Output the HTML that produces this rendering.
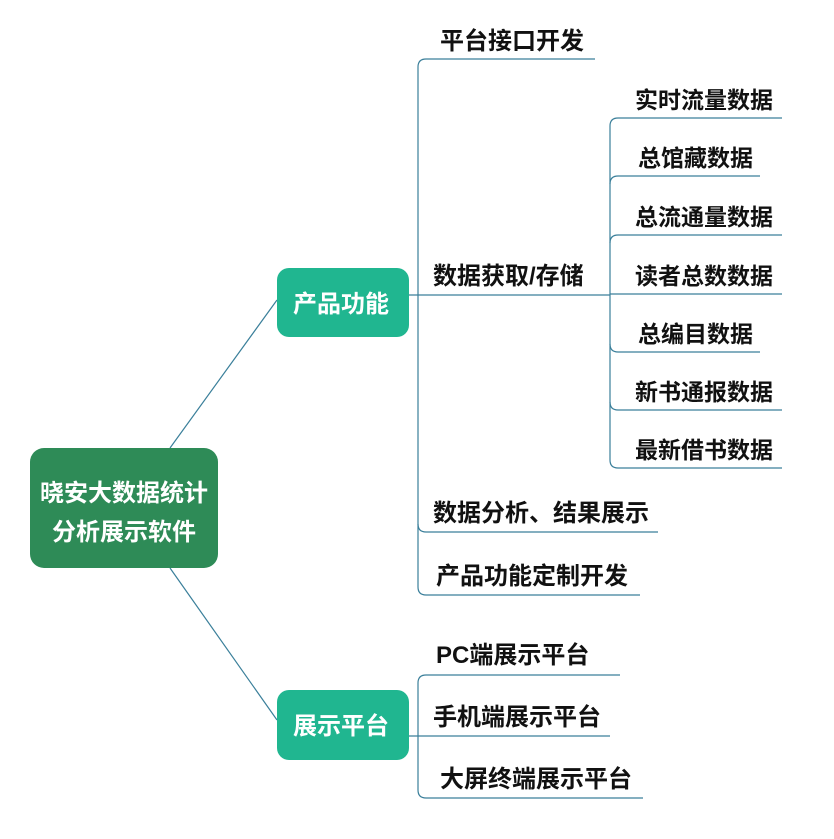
<!DOCTYPE html>
<html><head><meta charset="utf-8"><style>
html,body{margin:0;padding:0;background:#fff}
text{font-family:"Liberation Sans","Noto Sans CJK SC",sans-serif;font-weight:bold}
</style></head><body>
<svg width="834" height="834" viewBox="0 0 834 834" xmlns="http://www.w3.org/2000/svg">
<g stroke="#3a7f9a" stroke-width="1.2" fill="none">
<line x1="170" y1="448" x2="277" y2="300"/>
<line x1="170" y1="568" x2="277" y2="720"/>
<path d="M595 59 H426 Q418 59 418 67 V587 Q418 595 426 595 H640"/>
<line x1="409" y1="295" x2="610" y2="295"/>
<path d="M418 524 Q418 532 426 532 H658"/>
<path d="M782 118 H618 Q610 118 610 126 V460 Q610 468 618 468 H782"/>
<path d="M760 176 H618 Q610 176 610 184"/>
<path d="M782 235 H618 Q610 235 610 243"/>
<path d="M782 294 H610"/>
<path d="M760 352 H618 Q610 352 610 344"/>
<path d="M782 410 H618 Q610 410 610 402"/>
<path d="M620 675 H426 Q418 675 418 683 V790 Q418 798 426 798 H643"/>
<line x1="409" y1="736" x2="610" y2="736"/>
</g>
<rect x="30" y="448" width="188" height="120" rx="14" fill="#2e8b57"/>
<rect x="277" y="268" width="132" height="69" rx="12" fill="#20b690"/>
<rect x="277" y="690" width="132" height="70" rx="12" fill="#20b690"/>
<g fill="#fff" font-size="24" text-anchor="middle">
<text x="124" y="501">晓安大数据统计</text>
<text x="124" y="540">分析展示软件</text>
<text x="341" y="312">产品功能</text>
<text x="341" y="734">展示平台</text>
</g>
<g fill="#111" font-size="24">
<text x="440" y="49">平台接口开发</text>
<text x="433" y="284">数据获取/存储</text>
<text x="433" y="521">数据分析、结果展示</text>
<text x="436" y="584">产品功能定制开发</text>
<text x="436" y="663">PC端展示平台</text>
<text x="433" y="725">手机端展示平台</text>
<text x="440" y="787">大屏终端展示平台</text>
</g>
<g fill="#111" font-size="23">
<text x="635" y="108">实时流量数据</text>
<text x="638" y="166">总馆藏数据</text>
<text x="635" y="225">总流通量数据</text>
<text x="635" y="284">读者总数数据</text>
<text x="638" y="342">总编目数据</text>
<text x="635" y="400">新书通报数据</text>
<text x="635" y="458">最新借书数据</text>
</g>
</svg>
</body></html>
